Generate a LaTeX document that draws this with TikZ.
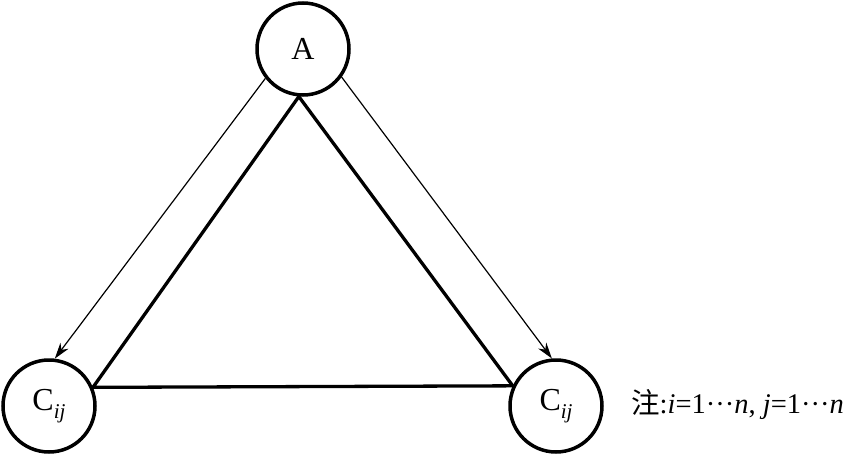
\documentclass[tikz,border=0pt]{standalone}
\usepackage{fontspec}
\setmainfont{Liberation Serif}
\newfontfamily\cjk{Noto Sans CJK SC}
\usetikzlibrary{arrows.meta}
\tikzset{
  vert/.style={circle, draw, line width=3.5pt, inner sep=0pt, minimum size=92pt, font=\fontsize{32}{32}\selectfont},
  edge/.style={line width=3.3pt},
  flow/.style={line width=1.2pt, -{Stealth[length=16pt,width=10pt,inset=5pt]}}
}
\begin{document}
\begin{tikzpicture}[x=1pt,y=-1pt]
\useasboundingbox (0,0) rectangle (846,455);
\node[vert] (A) at (303,49) {A};
\node[vert] (C1) at (49,406) {C\raisebox{-0.25em}{\fontsize{21}{21}\selectfont\itshape ij}};
\node[vert] (C2) at (556,406) {C\raisebox{-0.25em}{\fontsize{21}{21}\selectfont\itshape ij}};
\draw[edge, line join=miter] (A.-95) -- (C1.23) -- (C2.155) -- cycle;
\draw[flow] (A.-142) -- (C1.83);
\draw[flow] (A.-36) -- (C2.95);
\node[anchor=base west, inner sep=0pt, font=\fontsize{28.5}{29}\selectfont] (note) at (631,413) {{\cjk 注}:\textit{i}=1···\textit{n}, \textit{j}=1···\textit{n}};
\end{tikzpicture}
\end{document}
